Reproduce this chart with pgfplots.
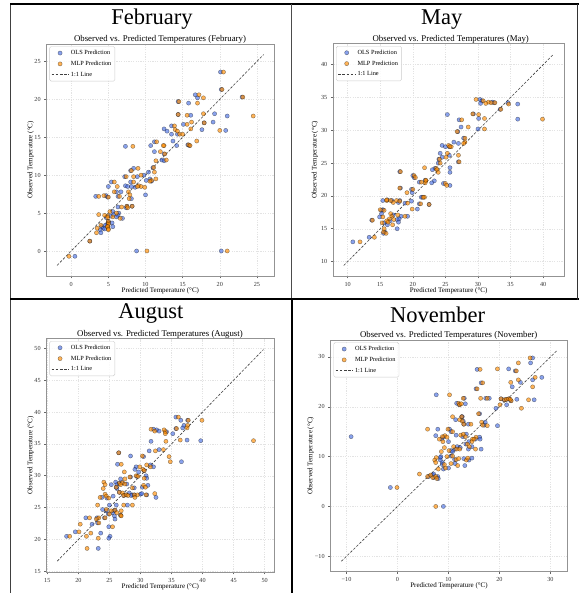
\documentclass[border=0pt]{standalone}
\usepackage{pgfplots}
\pgfplotsset{compat=1.18}
\usepackage{pgfplotstable}
\usepackage{fontspec}
\setmainfont{Liberation Serif}

\definecolor{royal}{RGB}{65,105,225}
\definecolor{dorange}{RGB}{255,140,0}

\pgfplotstableread{
obs ols mlp
23.6 20.1 20.5
21.3 20.2 20.3
20.6 16.7 17.2
20.2 17.0 17.8
20.3 23.0 23.1
19.7 14.4 14.5
19.5 15.8 17.0
18.1 19.3 17.8
17.9 16.1 15.6
18.0 14.4 14.4
17.8 21.0 24.5
17.0 19.1 16.2
16.9 17.9 17.9
16.7 15.1 15.6
16.5 13.5 13.9
16.1 12.5 16.1
16.0 17.6 14.0
15.9 20.8 20.0
15.8 12.9 14.3
15.4 13.5 14.6
15.4 14.3 15.0
14.5 13.7 16.9
14.4 11.2 11.5
14.0 15.7 15.8
13.9 15.9 16.0
13.9 14.2 12.5
13.8 7.3 8.3
13.9 10.7 12.4
13.1 11.2 12.0
12.8 12.5 12.6
12.0 12.2 12.8
11.9 12.5 11.4
11.0 11.0 11.1
10.9 8.4 9.0
10.6 8.0 8.1
10.4 10.4 11.2
10.0 9.8 9.4
9.8 7.2 7.4
9.8 8.9 8.4
9.5 10.6 11.4
9.3 10.1 10.8
9.2 10.8 10.6
9.1 5.4 5.8
9.1 8.0 8.4
8.6 7.3 9.1
8.5 5.0 6.2
8.5 7.6 9.4
8.5 8.1 8.9
8.4 8.6 9.9
7.8 6.1 5.8
7.8 6.7 7.7
7.4 10.0 7.9
7.3 4.7 4.4
7.1 4.9 5.0
7.2 3.3 3.7
7.2 6.3 6.5
6.9 8.1 7.8
5.9 7.5 7.5
5.9 8.2 8.2
5.8 6.3 6.8
5.7 7.4 7.6
5.2 5.6 5.2
5.0 6.4 6.1
4.8 5.7 3.7
4.6 5.3 4.9
4.7 6.3 4.5
4.5 6.1 5.6
4.4 4.7 4.9
4.3 6.9 6.6
3.9 5.0 5.0
3.7 5.5 5.0
3.5 4.8 5.0
3.4 4.6 4.0
3.2 5.6 4.9
3.2 4.1 4.9
3.0 4.3 3.5
2.9 4.5 5.0
2.8 3.9 5.0
2.4 4.0 3.4
1.3 2.5 2.5
0.0 8.8 10.2
0.0 20.2 21.0
-0.7 0.5 -0.3
}\febdata

\pgfplotstableread{
obs ols mlp
34.7 30.3 29.7
34.5 30.6 30.8
34.3 32.2 31.6
34.1 30.4 31.2
34.2 32.5 32.6
34.0 36.1 34.7
34.2 34.6 32.0
33.2 33.4 33.5
31.7 36.1 39.9
32.4 25.3 30.1
32.5 29.3 29.2
31.8 30.1 31.0
31.6 27.1 27.5
30.5 27.4 28.5
30.2 30.0 31.0
29.8 26.9 26.8
28.8 27.8 28.0
28.2 26.3 28.0
28.0 27.0 27.8
27.7 24.5 25.5
27.5 25.0 25.9
27.5 25.6 25.7
26.5 24.2 25.3
26.2 25.6 27.0
25.9 24.5 25.1
25.2 27.0 27.1
25.6 24.0 24.1
25.0 23.9 24.2
24.3 25.7 21.8
24.2 23.4 23.6
24.0 23.0 23.7
23.7 18.0 18.1
23.6 25.7 23.9
22.3 23.3 22.0
22.0 22.9 21.9
21.9 24.7 25.0
21.6 25.7 25.2
22.1 21.0 21.3
22.4 21.9 22.0
23.1 20.0 20.2
22.8 20.2 20.4
21.2 18.1 18.0
21.0 19.8 20.0
20.5 19.9 19.1
19.8 21.5 21.8
19.8 21.3 21.6
19.3 15.4 16.0
19.4 16.1 16.0
19.3 18.0 17.5
19.2 19.8 18.0
19.0 17.8 17.0
19.3 16.8 16.6
18.9 18.8 19.2
18.7 22.5 22.5
18.8 21.0 21.2
18.0 20.7 19.9
17.9 15.4 15.0
17.8 15.2 15.6
17.3 15.2 16.6
17.1 17.0 17.7
16.9 19.2 18.8
16.9 18.2 16.8
16.8 14.9 15.4
16.5 17.9 16.4
16.4 17.6 17.1
16.3 13.7 13.8
16.2 16.5 16.0
16.0 17.8 16.2
15.9 15.6 15.3
15.6 16.1 16.9
15.0 17.6 15.6
14.5 15.7 15.5
14.3 15.5 15.9
13.7 13.3 14.1
13.0 10.8 11.9
}\maydata

\pgfplotstableread{
obs ols mlp
39.2 35.7 36.1
38.7 37.6 37.7
38.7 36.5 39.9
37.9 37.0 37.6
37.4 35.7 35.8
37.5 36.8 37.5
37.3 32.1 31.7
37.2 32.6 33.8
37.0 33.0 32.3
36.9 34.2 34.0
36.6 35.2 34.0
35.6 37.5 36.4
35.5 39.7 48.2
35.4 31.7 34.1
34.1 33.0 33.7
33.9 31.4 32.4
33.6 26.5 26.5
33.1 28.4 30.3
33.0 30.5 34.6
32.2 36.6 34.8
31.7 31.6 31.0
31.4 32.1 31.6
31.8 26.3 26.9
31.4 29.3 29.9
31.0 29.1 30.4
30.8 30.6 30.6
30.6 29.7 27.4
30.0 30.9 29.3
29.9 29.4 29.6
29.6 31.0 30.6
29.5 26.8 27.5
29.0 26.0 24.1
28.6 25.3 24.3
28.8 26.6 26.6
28.9 27.1 27.1
29.8 28.4 28.3
28.7 27.8 27.5
28.6 26.2 26.8
28.1 29.0 28.7
28.5 31.2 30.5
28.2 30.3 30.8
28.0 26.2 24.0
28.2 26.1 26.1
27.4 26.6 26.6
27.3 28.2 27.1
27.1 30.0 24.3
26.8 25.6 24.5
26.6 23.8 23.5
26.5 24.6 24.9
26.9 27.3 27.3
27.0 27.7 27.7
27.0 28.7 29.5
27.0 29.0 29.0
26.6 32.5 29.1
27.0 31.0 30.9
27.2 30.2 32.3
26.9 28.5 28.0
25.4 26.1 27.3
25.4 27.9 28.7
25.4 25.0 23.1
24.7 23.9 24.5
24.5 25.7 25.3
24.6 25.9 25.9
24.5 24.5 26.9
24.2 25.5 26.2
24.0 24.8 25.0
23.8 26.8 26.8
23.7 25.8 26.9
23.4 24.2 24.3
23.2 25.9 22.9
23.4 21.2 21.8
23.4 23.0 23.3
22.6 23.1 23.3
22.4 22.2 20.3
22.0 24.9 25.5
21.2 19.5 20.1
21.0 23.6 22.0
20.5 18.1 18.6
20.5 25.1 21.3
20.2 24.9 23.2
18.6 23.2 21.4
}\augdata

\pgfplotstableread{
obs ols mlp
29.8 26.5 26.0
28.8 26.1 23.7
27.5 15.6 16.2
27.6 21.8 19.6
27.2 23.1 23.3
25.9 28.3 27.0
25.4 26.5 23.7
24.9 24.1 22.2
24.0 22.5 26.5
24.8 16.4 16.7
23.6 15.4 15.6
22.4 7.6 10.2
21.6 20.3 20.3
21.4 20.9 21.0
21.5 21.4 21.4
21.6 21.9 21.8
21.2 22.2 22.3
21.5 23.4 22.1
21.4 26.8 25.7
20.4 21.4 20.1
19.7 19.3 24.3
16.2 19.6 17.6
21.7 13.1 12.9
20.7 11.6 12.0
20.4 12.1 12.2
20.6 13.3 12.5
21.7 17.3 16.3
21.7 18.0 17.6
18.0 12.6 10.8
17.4 11.4 12.2
18.0 12.7 12.6
17.1 12.9 12.7
16.5 13.9 14.4
16.5 13.0 13.0
18.6 16.1 15.9
16.9 17.2 16.5
16.3 17.0 16.7
15.5 7.9 5.9
14.2 7.5 9.3
15.5 10.2 9.9
15.0 10.5 10.8
14.3 11.5 12.4
14.0 12.8 13.3
14.5 13.5 12.9
14.0 -9.1 8.8
13.9 9.0 9.7
13.5 8.7 8.2
13.0 10.0 8.9
13.5 15.3 14.7
13.9 16.1 15.4
13.0 14.0 14.6
13.5 16.2 15.0
12.0 11.7 11.0
11.8 12.3 9.2
11.5 11.3 11.6
12.5 13.4 13.7
12.0 14.6 14.1
11.5 13.9 15.3
11.5 16.4 12.2
11.2 10.5 10.1
11.0 10.8 8.6
10.0 8.5 9.7
10.1 10.5 10.8
9.4 11.2 11.5
9.8 8.4 7.6
9.3 8.4 7.3
8.8 8.8 7.5
8.4 8.8 9.2
7.5 9.0 8.0
7.7 10.0 9.4
9.6 13.0 12.0
9.3 14.0 13.5
9.7 14.6 13.8
8.2 13.2 11.8
8.6 11.3 10.5
5.8 7.1 6.9
6.0 6.1 5.9
6.3 6.9 6.5
6.5 7.1 4.3
6.0 7.9 7.5
5.6 8.0 7.7
3.8 -1.4 -0.1
0.0 9.0 7.5
}\novdata

\pgfplotsset{
  panel/.style={
    scale only axis,
    axis line style={draw=gray!85, line width=0.8pt},
    grid=major,
    grid style={dash pattern=on 1.2pt off 1.2pt, gray!22, line width=0.4pt},
    tick style={draw=gray!80!black, line width=0.5pt},
    major tick length=2.5pt,
    tick align=outside,
    xtick pos=bottom, ytick pos=left,
    tick label style={font=\fontsize{6.2}{6.2}\selectfont, text=black!80},
    /pgf/number format/assume math mode=true,
    label style={font=\fontsize{7}{7}\selectfont},
    xlabel={Predicted Temperature (°C)},
    ylabel={Observed Temperature (°C)},
    legend style={at={(0.012,0.99)}, anchor=north west,
      font=\fontsize{6.3}{6.5}\selectfont, draw=gray!40, rounded corners=1.5pt,
      fill=white, fill opacity=0.85, text opacity=1, inner sep=1.6pt, row sep=1pt},
    legend cell align=left,
  },
  ols/.style={only marks, mark=*, mark size=2.1pt,
    mark options={fill=royal, fill opacity=0.62, draw=black, draw opacity=0.5, line width=0.35pt}},
  mlp/.style={only marks, mark=*, mark size=2.1pt,
    mark options={fill=dorange, fill opacity=0.65, draw=black, draw opacity=0.5, line width=0.35pt}},
  oneone/.style={black!75, dash pattern=on 2.6pt off 1.6pt, line width=0.6pt},
}

\newcommand{\bigt}{\fontsize{22.5}{24}\selectfont}
\newcommand{\subt}{\fontsize{8.8}{9}\selectfont}

\begin{document}
\begin{tikzpicture}
\path[use as bounding box] (0pt,0pt) rectangle (579pt,593pt);

% panel borders
\draw[line width=1.5pt, black!75] (10.5pt,0pt) -- (10.5pt,589pt);
\draw[line width=1.2pt, black] (10pt,589pt) -- (579pt,589pt);
\draw[line width=1.2pt, black!70] (291.5pt,293pt) -- (291.5pt,589pt);
\draw[line width=2pt, black] (291.5pt,0pt) -- (291.5pt,293pt);
\draw[line width=2pt, black] (10pt,293.5pt) -- (579pt,293.5pt);
\draw[line width=1.2pt, black!80] (577.5pt,293pt) -- (577.5pt,589pt);

% titles
\node[font=\bigt] at (152pt,573.5pt) {February};
\node[font=\bigt] at (441.7pt,573.5pt) {May};
\node[font=\bigt] at (151pt,279pt) {August};
\node[font=\bigt] at (437.7pt,278pt) {November};
\node[font=\subt] at (160pt,554pt) {Observed vs. Predicted Temperatures (February)};
\node[font=\subt] at (450.7pt,554pt) {Observed vs. Predicted Temperatures (May)};
\node[font=\subt] at (160pt,259pt) {Observed vs. Predicted Temperatures (August)};
\node[font=\subt] at (448.7pt,258pt) {Observed vs. Predicted Temperatures (November)};

% February
\begin{axis}[panel, at={(46.7pt,317pt)}, anchor=south west,
  width=227.3pt, height=232pt,
  xmin=-3.3, xmax=27.3, ymin=-3.3, ymax=27.3,
  xtick={0,5,...,25}, ytick={0,5,...,25},
  xlabel style={at={(axis description cs:0.5,-0.0647)}, anchor=center},
  ylabel style={at={(axis description cs:-0.0704,0.5)}, anchor=center}]
\addplot[ols] table[x=ols,y=obs]{\febdata};
\addlegendentry{OLS Prediction}
\addplot[mlp] table[x=mlp,y=obs]{\febdata};
\addlegendentry{MLP Prediction}
\addplot[oneone] coordinates {(-1.9,-1.9) (25.9,25.9)};
\addlegendentry{1:1 Line}
\end{axis}

% May
\begin{axis}[panel, at={(333.3pt,317pt)}, anchor=south west,
  width=230.7pt, height=232.3pt,
  xmin=7.8, xmax=43.2, ymin=7.8, ymax=43.2,
  xtick={10,15,...,40}, ytick={10,15,...,40},
  xlabel style={at={(axis description cs:0.5,-0.0645)}, anchor=center},
  ylabel style={at={(axis description cs:-0.0793,0.5)}, anchor=center}]
\addplot[ols] table[x=ols,y=obs]{\maydata};
\addlegendentry{OLS Prediction}
\addplot[mlp] table[x=mlp,y=obs]{\maydata};
\addlegendentry{MLP Prediction}
\addplot[oneone] coordinates {(9.4,9.4) (41.5,41.5)};
\addlegendentry{1:1 Line}
\end{axis}

% August
\begin{axis}[panel, at={(46.7pt,21pt)}, anchor=south west,
  width=227.3pt, height=233.3pt,
  xmin=14.9, xmax=51.5, ymin=14.9, ymax=51.5,
  xtick={15,20,...,50}, ytick={15,20,...,50},
  xlabel style={at={(axis description cs:0.5,-0.0656)}, anchor=center},
  ylabel style={at={(axis description cs:-0.0704,0.5)}, anchor=center}]
\addplot[ols] table[x=ols,y=obs]{\augdata};
\addlegendentry{OLS Prediction}
\addplot[mlp] table[x=mlp,y=obs]{\augdata};
\addlegendentry{MLP Prediction}
\addplot[oneone] coordinates {(16.6,16.6) (49.8,49.8)};
\addlegendentry{1:1 Line}
\end{axis}

% November
\begin{axis}[panel, at={(330.7pt,21.3pt)}, anchor=south west,
  width=236.6pt, height=231.7pt,
  xmin=-13.1, xmax=33.3, ymin=-13.1, ymax=33.4,
  xtick={-10,0,10,20,30}, ytick={-10,0,10,20,30},
  xticklabels={−10,0,10,20,30}, yticklabels={−10,0,10,20,30},
  xlabel style={at={(axis description cs:0.5,-0.0617)}, anchor=center},
  ylabel style={at={(axis description cs:-0.0845,0.5)}, anchor=center}]
\addplot[ols] table[x=ols,y=obs]{\novdata};
\addlegendentry{OLS Prediction}
\addplot[mlp] table[x=mlp,y=obs]{\novdata};
\addlegendentry{MLP Prediction}
\addplot[oneone] coordinates {(-11,-11) (31.2,31.2)};
\addlegendentry{1:1 Line}
\end{axis}
\end{tikzpicture}
\end{document}
